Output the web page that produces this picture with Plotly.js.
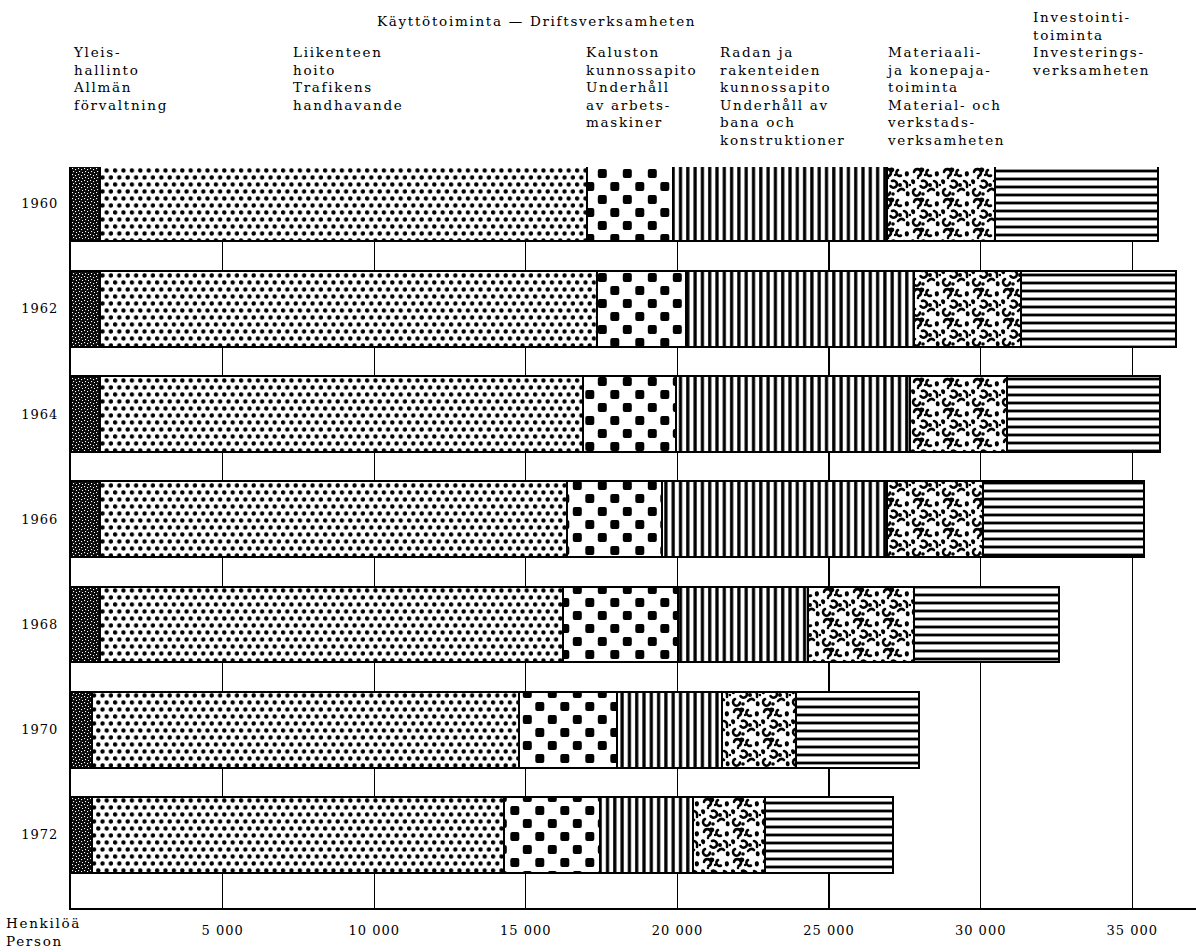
<!DOCTYPE html>
<html>
<head>
<meta charset="utf-8">
<script src="https://cdn.plot.ly/plotly-3.0.1.min.js"></script>
<style>
  html, body { margin: 0; padding: 0; background: #fff; }
  #chart { width: 1196px; height: 952px; }
  .xtick text, .ytick text { letter-spacing: 1px; }
  .annotation-text { letter-spacing: 1.7px; }
</style>
</head>
<body>
<svg width="0" height="0" style="position:absolute">
  <defs>
    <pattern id="patAdmin" patternUnits="userSpaceOnUse" width="6" height="6">
      <rect width="6" height="6" fill="#0b0b0b"/>
      <rect x="1" y="1" width="1.1" height="1.1" fill="#fff"/>
      <rect x="4" y="2" width="1.1" height="1.1" fill="#fff"/>
      <rect x="2" y="4" width="1.1" height="1.1" fill="#fff"/>
      <rect x="5" y="5" width="1.1" height="1.1" fill="#fff"/>
    </pattern>
    <pattern id="patTraffic" patternUnits="userSpaceOnUse" width="8.4" height="14">
      <rect width="8.4" height="14" fill="#fff"/>
      <circle cx="2.1" cy="3.5" r="2.2" fill="#000"/>
      <circle cx="6.3" cy="10.5" r="2.2" fill="#000"/>
    </pattern>
    <pattern id="patRolling" patternUnits="userSpaceOnUse" width="25" height="26">
      <rect width="25" height="26" fill="#fff"/>
      <rect x="1.8" y="2" width="9" height="9" rx="2" fill="#000"/>
      <rect x="14.3" y="15" width="9" height="9" rx="2" fill="#000"/>
    </pattern>
    <pattern id="patTrack" patternUnits="userSpaceOnUse" width="7.3" height="10">
      <rect width="7.3" height="10" fill="#fff"/>
      <rect x="2" y="0" width="3.2" height="10" fill="#000"/>
    </pattern>
    <pattern id="patMaterial" patternUnits="userSpaceOnUse" width="30" height="30">
      <rect width="30" height="30" fill="#fff"/>
      <g fill="none" stroke="#000" stroke-width="2.6" stroke-linecap="round">
        <path d="M3,5 a3.5,3.5 0 1,1 4.5,4"/>
        <path d="M17,3 a3,3 0 1,0 3,5.5"/>
        <path d="M11,14 a3.5,3.5 0 1,1 -1.5,5"/>
        <path d="M23,14 q4,1 3,6"/>
        <path d="M4,22 a3.5,3.5 0 1,0 5,3.5"/>
        <path d="M17,24 q3,-3.5 6,-1"/>
      </g>
      <g fill="#000">
        <path d="M9,1 c3,-1.5 5.5,1 3.5,3.5 c-2,2 -4.5,0.5 -3.5,-3.5z"/>
        <path d="M24,5 c2.5,-2 5,0.5 3.5,3.5 c-1.5,2 -4.5,1 -3.5,-3.5z"/>
        <path d="M0,13 c2,-2 5,0 4,3 c-1,2.5 -4,1.5 -4,-3z"/>
        <circle cx="19" cy="18" r="2"/>
        <path d="M25,25 c2,-2 5,1 3,4 c-2,1 -4,0 -3,-4z"/>
        <circle cx="12" cy="27" r="1.8"/>
        <circle cx="7" cy="11" r="1.3"/>
        <circle cx="29" cy="18" r="1.3"/>
        <circle cx="14" cy="8" r="1.2"/>
      </g>
    </pattern>
    <pattern id="patInvest" patternUnits="userSpaceOnUse" width="10" height="8">
      <rect width="10" height="8" fill="#fff"/>
      <rect x="0" y="2.6" width="10" height="2.8" fill="#000"/>
    </pattern>
  </defs>
</svg>
<div id="chart"></div>
<script>
// ---- data (persons) ----
const years = ['1960', '1962', '1964', '1966', '1968', '1970', '1972'];
const yleishallinto = [970, 970, 970, 940, 940, 690, 690];
const liikenteenHoito = [16040, 16390, 15910, 15410, 15280, 14080, 13600];
const kalustonKunnossapito = [2840, 2930, 3070, 3140, 3800, 3230, 3170];
const radanKunnossapito = [7060, 7500, 7720, 7430, 4290, 3470, 3040];
const materiaaliKonepaja = [3570, 3550, 3200, 3170, 3480, 2440, 2380];
const investointi = [5380, 5110, 5030, 5310, 4800, 4050, 4220];
const xTickVals = [5000, 10000, 15000, 20000, 25000, 30000, 35000];
const xTickText = ['5 000', '10 000', '15 000', '20 000', '25 000', '30 000', '35 000'];

const FONT = 'DejaVu Serif, Liberation Serif, serif';

const seriesList = [
  {name: 'Yleishallinto', values: yleishallinto, pat: {shape: '.', bgcolor: '#111', fgcolor: '#fff', size: 4, solidity: 0.1}, id: 'patAdmin'},
  {name: 'Liikenteen hoito', values: liikenteenHoito, pat: {shape: '.', bgcolor: '#fff', fgcolor: '#000', size: 8, solidity: 0.2}, id: 'patTraffic'},
  {name: 'Kaluston kunnossapito', values: kalustonKunnossapito, pat: {shape: '+', bgcolor: '#000', fgcolor: '#fff', size: 12, solidity: 0.6}, id: 'patRolling'},
  {name: 'Radan ja rakenteiden kunnossapito', values: radanKunnossapito, pat: {shape: '|', bgcolor: '#fff', fgcolor: '#000', size: 7, solidity: 0.45}, id: 'patTrack'},
  {name: 'Materiaali- ja konepajatoiminta', values: materiaaliKonepaja, pat: {shape: 'x', bgcolor: '#fff', fgcolor: '#000', size: 8, solidity: 0.35}, id: 'patMaterial'},
  {name: 'Investointitoiminta', values: investointi, pat: {shape: '-', bgcolor: '#fff', fgcolor: '#000', size: 8, solidity: 0.35}, id: 'patInvest'}
];

const traces = seriesList.map(s => ({
  type: 'bar',
  orientation: 'h',
  name: s.name,
  y: years,
  x: s.values,
  width: 0.72,
  marker: {
    color: '#fff',
    pattern: Object.assign({fillmode: 'replace'}, s.pat),
    line: {color: '#000', width: 2}
  },
  hoverinfo: 'skip'
}));

function py(p) { return (908 - p) / 741; }
function px(p) { return (p - 71) / 1125; }

const hdr = (text, x, top) => ({
  xref: 'paper', yref: 'paper', x: px(x), y: py(top),
  xanchor: 'left', yanchor: 'top', align: 'left',
  text: text, showarrow: false,
  font: {family: FONT, size: 13.5, color: '#000'}
});

const layout = {
  width: 1196, height: 952,
  margin: {l: 71, r: 0, t: 167, b: 44},
  paper_bgcolor: '#fff', plot_bgcolor: '#fff',
  barmode: 'stack',
  showlegend: false,
  xaxis: {
    range: [0, 37100],
    tickvals: xTickVals, ticktext: xTickText,
    showgrid: true, gridcolor: '#000', gridwidth: 1.3,
    zeroline: false, showline: true, linecolor: '#000', linewidth: 2,
    ticks: '', ticklabelstandoff: 9,
    tickfont: {family: FONT, size: 13, color: '#000'}
  },
  yaxis: {
    type: 'category', categoryorder: 'array', categoryarray: years,
    range: [6.695, -0.348],
    showgrid: false, zeroline: false, showline: true, linecolor: '#000', linewidth: 2,
    ticks: '', ticklabelstandoff: 8,
    tickfont: {family: FONT, size: 13, color: '#000'}
  },
  annotations: [
    Object.assign(hdr('Käyttötoiminta — Driftsverksamheten', 536, 11), {xanchor: 'center'}),
    hdr('Yleis-<br>hallinto<br>Allmän<br>förvaltning', 71, 42),
    hdr('Liikenteen<br>hoito<br>Trafikens<br>handhavande', 291, 42),
    hdr('Kaluston<br>kunnossapito<br>Underhåll<br>av arbets-<br>maskiner', 584, 42),
    hdr('Radan ja<br>rakenteiden<br>kunnossapito<br>Underhåll av<br>bana och<br>konstruktioner', 718, 42),
    hdr('Materiaali-<br>ja konepaja-<br>toiminta<br>Material- och<br>verkstads-<br>verksamheten', 884, 42),
    hdr('Investointi-<br>toiminta<br>Investerings-<br>verksamheten', 1030, 7),
    hdr('Henkilöä<br>Person', 4, 913)
  ]
};

Plotly.newPlot('chart', traces, layout, {staticPlot: true, displayModeBar: false}).then(gd => {
  const groups = gd.querySelectorAll('.barlayer .trace.bars');
  groups.forEach((g, i) => {
    const s = seriesList[i];
    if (!s) return;
    g.querySelectorAll('path').forEach(p => {
      p.style.fill = 'url(#' + s.id + ')';
      p.style.fillOpacity = 1;
    });
  });
});
</script>
</body>
</html>
